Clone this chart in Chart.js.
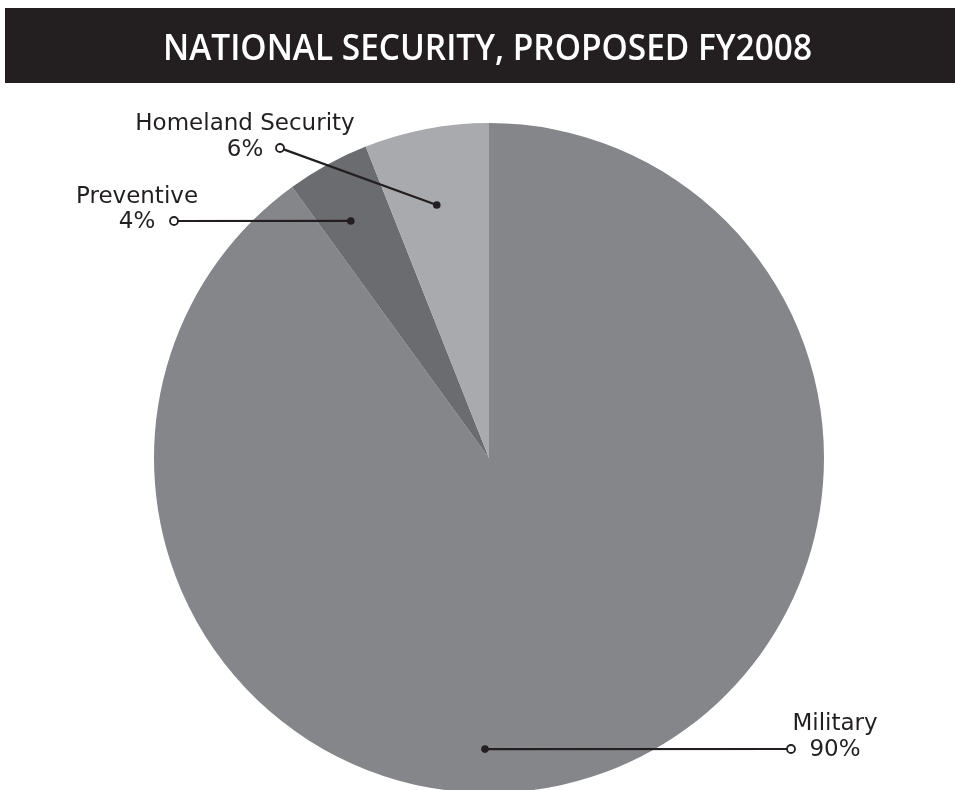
<!DOCTYPE html>
<html>
<head>
<meta charset="utf-8">
<script src="https://cdn.jsdelivr.net/npm/chart.js@4.4.1/dist/chart.umd.min.js"></script>
<style>
  html, body { margin: 0; padding: 0; background: #ffffff; width: 955px; height: 790px; overflow: hidden; }
  #wrap { position: absolute; left: 0; top: 0; width: 955px; height: 800px; }
</style>
</head>
<body>
<div id="wrap"><canvas id="pie"></canvas></div>
<script>
// Budget shares, proposed FY2008
const categories = ['Military', 'Preventive', 'Homeland Security'];
const shares = [90, 4, 6];
const shareLabels = ['90%', '4%', '6%'];
const titleText = 'NATIONAL SECURITY, PROPOSED FY2008';

const INK = '#231f20';

// Callout placement for each slice: where the dot sits inside the slice
// (fraction of the sweep, fraction of the radius) and where the ring and
// text sit relative to the pie centre.
const callouts = [
  { at: 0.558, depth: 0.869, ring: [302, 291],   text: [346, 272],  lead: 26 },
  { at: 0.40,  depth: 0.819, ring: [-315, -237], text: [-352, -255], lead: 25 },
  { at: 0.46,  depth: 0.771, ring: [-209, -310], text: [-244, -328], lead: 26 }
];

// Dark title band across the top
const titleBand = {
  id: 'titleBand',
  beforeDraw(chart) {
    const ctx = chart.ctx;
    ctx.save();
    ctx.fillStyle = INK;
    ctx.fillRect(5, 8, 950, 75);
    ctx.font = '600 36px "Open Sans"';
    ctx.fillStyle = '#ffffff';
    ctx.textBaseline = 'alphabetic';
    ctx.textAlign = 'center';
    const w = ctx.measureText(titleText).width;
    const sx = 649 / w;
    ctx.translate(487.5, 60);
    ctx.scale(sx, 1);
    ctx.fillText(titleText, 0, 0);
    ctx.restore();
  }
};

// Slightly softened slice edges
const softEdges = {
  id: 'softEdges',
  beforeDatasetsDraw(chart) {
    chart.ctx.save();
    chart.ctx.filter = 'blur(0.6px)';
  },
  afterDatasetsDraw(chart) {
    chart.ctx.restore();
  }
};

// Leader lines with labels
const leaders = {
  id: 'leaders',
  afterDraw(chart) {
    const ctx = chart.ctx;
    const meta = chart.getDatasetMeta(0);
    ctx.save();
    meta.data.forEach((arc, i) => {
      const p = arc.getProps(['x', 'y', 'startAngle', 'endAngle', 'outerRadius'], true);
      const c = callouts[i];
      const a = p.startAngle + c.at * (p.endAngle - p.startAngle);
      const dx = p.x + Math.cos(a) * c.depth * p.outerRadius;
      const dy = p.y + Math.sin(a) * c.depth * p.outerRadius;
      const rx = p.x + c.ring[0];
      const ry = p.y + c.ring[1];
      const ang = Math.atan2(dy - ry, dx - rx);
      const rr = 4;

      ctx.strokeStyle = INK;
      ctx.lineWidth = 2.2;
      ctx.beginPath();
      ctx.moveTo(rx + Math.cos(ang) * rr, ry + Math.sin(ang) * rr);
      ctx.lineTo(dx, dy);
      ctx.stroke();

      ctx.fillStyle = INK;
      ctx.beginPath();
      ctx.arc(dx, dy, 3.8, 0, Math.PI * 2);
      ctx.fill();

      ctx.fillStyle = '#ffffff';
      ctx.lineWidth = 1.8;
      ctx.beginPath();
      ctx.arc(rx, ry, rr, 0, Math.PI * 2);
      ctx.fill();
      ctx.stroke();

      ctx.fillStyle = INK;
      ctx.font = '23px "DejaVu Sans"';
      ctx.textAlign = 'center';
      ctx.textBaseline = 'alphabetic';
      const tx = p.x + c.text[0];
      const ty = p.y + c.text[1];
      ctx.fillText(categories[i], tx, ty);
      ctx.fillText(shareLabels[i], tx, ty + c.lead);
    });
    ctx.restore();
  }
};

new Chart(document.getElementById('pie'), {
  type: 'pie',
  data: {
    labels: categories,
    datasets: [{
      data: shares,
      backgroundColor: ['#85868a', '#6b6c70', '#a9aaad'],
      borderWidth: 0,
      hoverOffset: 0,
      offset: 0
    }]
  },
  options: {
    responsive: true,
    maintainAspectRatio: false,
    animation: false,
    events: [],
    layout: { padding: { left: 154, top: 123, right: 131, bottom: 7 } },
    plugins: {
      legend: { display: false },
      tooltip: { enabled: false },
      title: { display: false }
    }
  },
  plugins: [titleBand, softEdges, leaders]
});
</script>
</body>
</html>
